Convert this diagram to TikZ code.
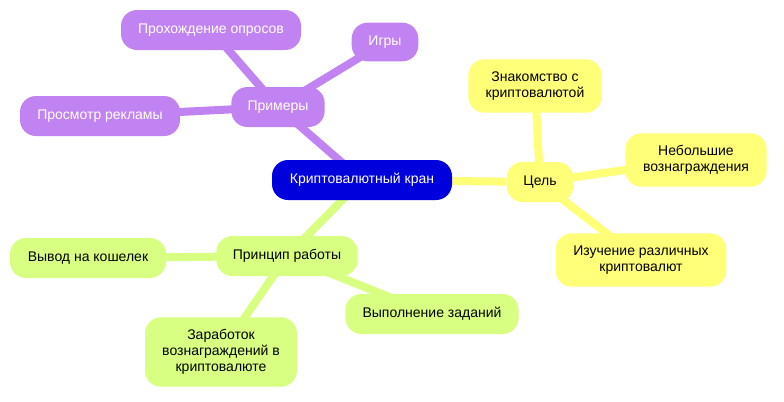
\documentclass[tikz,border=0pt]{standalone}
\usepackage{fontspec}
\setmainfont{Liberation Sans}
\usetikzlibrary{backgrounds}
\definecolor{rootblue}{HTML}{0000DD}
\definecolor{goalyellow}{HTML}{FFFF78}
\definecolor{expurple}{HTML}{C283F2}
\definecolor{workgreen}{HTML}{D9FF82}
\tikzset{
  topic/.style={rounded corners=12, inner sep=0pt, align=center, font=\fontsize{10.5}{12}\selectfont},
  rootbox/.style={topic, fill=rootblue, text=white},
  goalbox/.style={topic, fill=goalyellow},
  exbox/.style={topic, fill=expurple, text=white},
  workbox/.style={topic, fill=workgreen},
  branch/.style={line width=6pt}
}
\begin{document}
\begin{tikzpicture}[x=0.75pt, y=-0.75pt]
  \useasboundingbox (0,0) rectangle (784,401);
  % centre
  \node[rootbox, minimum width=135pt, minimum height=30pt] (root) at (362,180) {Криптовалютный кран};
  % goal
  \node[goalbox, minimum width=50pt, minimum height=30pt] (goal) at (540,182) {Цель};
  \node[goalbox, minimum width=100pt, minimum height=40pt] (meet) at (535,86) {Знакомство с\\криптовалютой};
  \node[goalbox, minimum width=106pt, minimum height=40pt] (small) at (696,160) {Небольшие\\вознаграждения};
  \node[goalbox, minimum width=128pt, minimum height=40pt] (study) at (641,260) {Изучение различных\\криптовалют};
  % examples
  \node[exbox, minimum width=70pt, minimum height=30pt] (examples) at (278,107) {Примеры};
  \node[exbox, minimum width=135pt, minimum height=30pt] (polls) at (211,30) {Прохождение опросов};
  \node[exbox, minimum width=50pt, minimum height=29pt] (games) at (385,42) {Игры};
  \node[exbox, minimum width=120pt, minimum height=30pt] (ads) at (100,116) {Просмотр рекламы};
  % how it works
  \node[workbox, minimum width=106pt, minimum height=30pt] (work) at (287,256) {Принцип работы};
  \node[workbox, minimum width=117pt, minimum height=30pt] (wallet) at (88,258) {Вывод на кошелек};
  \node[workbox, minimum width=130pt, minimum height=30pt] (tasks) at (432,314) {Выполнение заданий};
  \node[workbox, minimum width=114pt, minimum height=52pt] (earn) at (221,352) {Заработок\\вознаграждений в\\криптовалюте};
  \begin{scope}[on background layer]
    \draw[branch, goalyellow] (root) -- (goal);
    \draw[branch, goalyellow] (goal.center) -- (meet.center);
    \draw[branch, goalyellow] (goal.center) -- (small.center);
    \draw[branch, goalyellow] (goal.center) -- (study.center);
    \draw[branch, expurple] (root.center) -- (examples.center);
    \draw[branch, expurple] (examples.center) -- (polls.center);
    \draw[branch, expurple] (examples.center) -- (games.center);
    \draw[branch, expurple] (examples.center) -- (ads.center);
    \draw[branch, workgreen] (root.center) -- (work.center);
    \draw[branch, workgreen] (work.center) -- (wallet.center);
    \draw[branch, workgreen] (work.center) -- (tasks.center);
    \draw[branch, workgreen] (work.center) -- (earn.center);
  \end{scope}
\end{tikzpicture}
\end{document}
